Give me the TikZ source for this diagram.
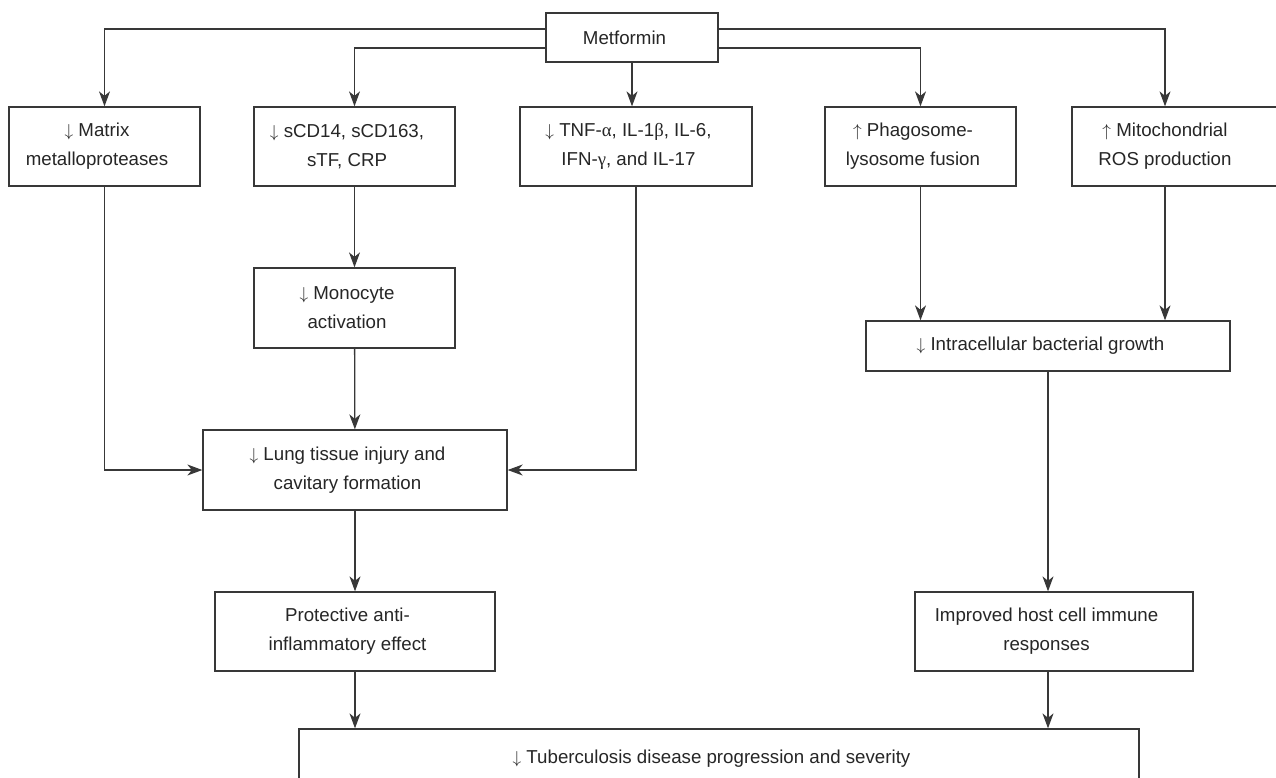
\documentclass[tikz,border=0pt]{standalone}
\usepackage{fontspec}
\setmainfont{Liberation Sans}
\newfontfamily\grk{Liberation Serif}
\usetikzlibrary{arrows.meta}

\tikzset{
  box/.style={draw=black!78, line width=1.3pt, fill=white, align=center, inner sep=0pt,
    minimum height=79pt, text=black!85, font={\fontsize{18.7}{29}\selectfont}},
  txt/.style={align=center, inner sep=0pt, text=black!85, font={\fontsize{18.7}{29}\selectfont}},
  arr/.style={draw=black!78, line width=1.3pt, -{Stealth[length=15pt,width=11pt,inset=4.5pt]}}
}
\newcommand{\dn}{$\downarrow$\ }
\newcommand{\up}{$\uparrow$\ }
% every line sits a little left of the box centre
\newcommand{\one}[1]{#1\kern15pt}
\newcommand{\two}[2]{#1\kern15pt\\#2\kern15pt}

\begin{document}
\begin{tikzpicture}[x=1pt,y=1pt,yscale=-1,xscale=1]
        \useasboundingbox (0,0) rectangle (1276,777);
        \clip (0,0) rectangle (1276,777);

        % Top node
        \node[box, minimum width=172pt, minimum height=49pt] (met) at (632,37.5) {\one{Metformin}};

        % First row
        \node[box, minimum width=191pt] (mmp) at (104.5,146.5) {\two{\dn Matrix}{metalloproteases}};
        \node[box, minimum width=201pt] (scd) at (354.5,146.5) {\two{\dn sCD14, sCD163,}{sTF, CRP}};
        \node[box, minimum width=232pt] (tnf) at (636,146.5) {\two{\dn TNF-{\grk α}, IL-1{\grk β}, IL-6,}{IFN-{\grk γ}, and IL-17}};
        \node[box, minimum width=191pt] (pha) at (920.5,146.5) {\two{\up Phagosome-}{lysosome fusion}};
        %Shape: box cut by the right edge, text set on its own
        \node[box, minimum width=218pt] (mitobox) at (1181,146.5) {};
        \node[txt] (mito) at (1165,146.5) {\up Mitochondrial\\ROS production};

        % Middle rows
        \node[box, minimum width=201pt, minimum height=80pt] (mono) at (354.5,308) {\two{\dn Monocyte}{activation}};
        \node[box, minimum width=364pt, minimum height=50pt] (intra) at (1048,346) {\one{\dn Intracellular bacterial growth}};
        \node[box, minimum width=304pt, minimum height=80pt] (lung) at (355,470) {\two{\dn Lung tissue injury and}{cavitary formation}};
        \node[box, minimum width=280pt] (prot) at (355,631.5) {\two{Protective anti-}{inflammatory effect}};
        \node[box, minimum width=278pt] (imp) at (1054,631.5) {\two{Improved host cell immune}{responses}};

        % Bottom node, cut by the lower edge
        \node[box, minimum width=840pt, minimum height=60pt] (tb) at (719,759) {\one{\dn Tuberculosis disease progression and severity}};

        % Connectors from Metformin
        \draw[arr] ([yshift=-8.5pt]met.west) -| (mmp.north);
        \draw[arr] ([yshift=10.5pt]met.west) -| (scd.north);
        \draw[arr] (met.south) -- (met.south |- tnf.north);
        \draw[arr] ([yshift=10.5pt]met.east) -| (pha.north);
        \draw[arr] ([yshift=-8.5pt]met.east) -| (mito |- mitobox.north);

        % Left branch
        \draw[arr] (scd) -- (mono);
        \draw[arr] (mono) -- (lung);
        \draw[arr] (mmp.south) |- (lung.west);
        \draw[arr] (tnf.south) |- (lung.east);
        \draw[arr] (lung) -- (prot);
        \draw[arr] (prot.south) -- (prot.south |- tb.north);

        % Right branch
        \draw[arr] (pha.south) -- (pha.south |- intra.north);
        \draw[arr] (mito |- mitobox.south) -- (mito |- intra.north);
        \draw[arr] (intra.south) -- (intra.south |- imp.north);
        \draw[arr] (intra.south |- imp.south) -- (intra.south |- tb.north);

\end{tikzpicture}
\end{document}
